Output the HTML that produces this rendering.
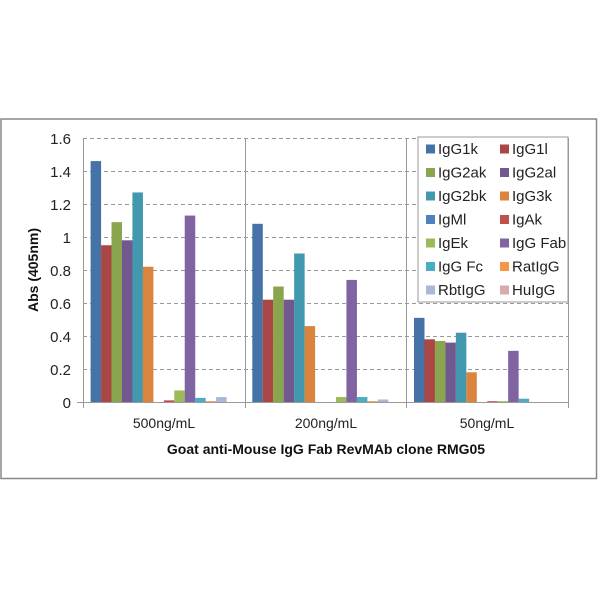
<!DOCTYPE html>
<html><head><meta charset="utf-8"><style>body{margin:0;background:#fff}</style></head><body>
<svg width="600" height="600" xmlns="http://www.w3.org/2000/svg" font-family="Liberation Sans, sans-serif">
<rect x="0" y="0" width="600" height="600" fill="#fff"/>
<rect x="1" y="119" width="595.5" height="359.5" fill="none" stroke="#888" stroke-width="1.5"/>
<g stroke="#999" stroke-dasharray="4,3" stroke-width="1">
<line x1="83" x2="568" y1="138.5" y2="138.5"/><line x1="83" x2="568" y1="171.5" y2="171.5"/>
<line x1="83" x2="568" y1="204.5" y2="204.5"/><line x1="83" x2="568" y1="237.5" y2="237.5"/>
<line x1="83" x2="568" y1="270.5" y2="270.5"/><line x1="83" x2="568" y1="303.5" y2="303.5"/>
<line x1="83" x2="568" y1="336.5" y2="336.5"/><line x1="83" x2="568" y1="369.5" y2="369.5"/>
</g>
<g stroke="#999" stroke-width="1">
<line x1="83.5" x2="83.5" y1="138" y2="408"/>
<line x1="245.5" x2="245.5" y1="138" y2="408"/>
<line x1="406.5" x2="406.5" y1="138" y2="408"/>
<line x1="568.5" x2="568.5" y1="138" y2="408"/>
<line x1="77" x2="568" y1="402.5" y2="402.5"/>
</g>
<g font-size="15" fill="#222" text-anchor="end">
<text x="71" y="144">1.6</text><text x="71" y="177">1.4</text><text x="71" y="210">1.2</text>
<text x="71" y="243">1</text><text x="71" y="276">0.8</text><text x="71" y="309">0.6</text>
<text x="71" y="342">0.4</text><text x="71" y="375">0.2</text><text x="71" y="408">0</text>
</g>
<text transform="translate(38,270) rotate(-90)" text-anchor="middle" font-size="14" font-weight="bold" fill="#111">Abs (405nm)</text>
<g font-size="14" fill="#222" text-anchor="middle">
<text x="164" y="428">500ng/mL</text><text x="326" y="428">200ng/mL</text><text x="487" y="428">50ng/mL</text>
</g>
<text x="326" y="454" text-anchor="middle" font-size="14" font-weight="bold" fill="#111">Goat anti-Mouse IgG Fab RevMAb clone RMG05</text>
<g>
<rect x="90.6" y="161.1" width="10.5" height="240.9" fill="#4572A7"/>
<rect x="101.06" y="245.25" width="10.5" height="156.75" fill="#AA4643"/>
<rect x="111.52" y="222.15" width="10.5" height="179.85" fill="#89A54E"/>
<rect x="121.98" y="240.3" width="10.5" height="161.7" fill="#71588F"/>
<rect x="132.44" y="192.45" width="10.5" height="209.55" fill="#4198AF"/>
<rect x="142.9" y="266.7" width="10.5" height="135.3" fill="#DB843D"/>
<rect x="163.82" y="400.35" width="10.5" height="1.65" fill="#C0504D"/>
<rect x="174.28" y="390.45" width="10.5" height="11.55" fill="#9BBB59"/>
<rect x="184.74" y="215.55" width="10.5" height="186.45" fill="#8064A2"/>
<rect x="195.2" y="397.9" width="10.5" height="4.1" fill="#4BACC6"/>
<rect x="205.66" y="401.2" width="10.5" height="0.8" fill="#F79646"/>
<rect x="216.12" y="397.05" width="10.5" height="4.95" fill="#A9B8D6"/>

<rect x="252.3" y="223.8" width="10.5" height="178.2" fill="#4572A7"/>
<rect x="262.76" y="299.7" width="10.5" height="102.3" fill="#AA4643"/>
<rect x="273.22" y="286.5" width="10.5" height="115.5" fill="#89A54E"/>
<rect x="283.68" y="299.7" width="10.5" height="102.3" fill="#71588F"/>
<rect x="294.14" y="253.5" width="10.5" height="148.5" fill="#4198AF"/>
<rect x="304.6" y="326.1" width="10.5" height="75.9" fill="#DB843D"/>
<rect x="335.98" y="397.05" width="10.5" height="4.95" fill="#9BBB59"/>
<rect x="346.44" y="279.9" width="10.5" height="122.1" fill="#8064A2"/>
<rect x="356.9" y="397.05" width="10.5" height="4.95" fill="#4BACC6"/>
<rect x="367.36" y="401.2" width="10.5" height="0.8" fill="#F79646"/>
<rect x="377.82" y="399.5" width="10.5" height="2.5" fill="#A9B8D6"/>

<rect x="414" y="317.85" width="10.5" height="84.15" fill="#4572A7"/>
<rect x="424.46" y="339.3" width="10.5" height="62.7" fill="#AA4643"/>
<rect x="434.92" y="340.95" width="10.5" height="61.05" fill="#89A54E"/>
<rect x="445.38" y="342.6" width="10.5" height="59.4" fill="#71588F"/>
<rect x="455.84" y="332.7" width="10.5" height="69.3" fill="#4198AF"/>
<rect x="466.3" y="372.3" width="10.5" height="29.7" fill="#DB843D"/>
<rect x="487.22" y="401.2" width="10.5" height="0.8" fill="#C0504D"/>
<rect x="497.68" y="401.2" width="10.5" height="0.8" fill="#9BBB59"/>
<rect x="508.14" y="350.85" width="10.5" height="51.15" fill="#8064A2"/>
<rect x="518.6" y="398.7" width="10.5" height="3.3" fill="#4BACC6"/>
</g>
<rect x="418" y="137" width="150" height="165" fill="#fff" stroke="#999"/>
<g font-size="15" fill="#222">
<rect x="426" y="144.5" width="9" height="9" fill="#4572A7"/><text x="438" y="154">IgG1k</text>
<rect x="500" y="144.5" width="9" height="9" fill="#AA4643"/><text x="512" y="154">IgG1l</text>
<rect x="426" y="168" width="9" height="9" fill="#89A54E"/><text x="438" y="177.5">IgG2ak</text>
<rect x="500" y="168" width="9" height="9" fill="#71588F"/><text x="512" y="177.5">IgG2al</text>
<rect x="426" y="191.5" width="9" height="9" fill="#4198AF"/><text x="438" y="201">IgG2bk</text>
<rect x="500" y="191.5" width="9" height="9" fill="#DB843D"/><text x="512" y="201">IgG3k</text>
<rect x="426" y="215" width="9" height="9" fill="#4F81BD"/><text x="438" y="224.5">IgMl</text>
<rect x="500" y="215" width="9" height="9" fill="#C0504D"/><text x="512" y="224.5">IgAk</text>
<rect x="426" y="238.5" width="9" height="9" fill="#9BBB59"/><text x="438" y="248">IgEk</text>
<rect x="500" y="238.5" width="9" height="9" fill="#8064A2"/><text x="512" y="248">IgG Fab</text>
<rect x="426" y="262" width="9" height="9" fill="#4BACC6"/><text x="438" y="271.5">IgG Fc</text>
<rect x="500" y="262" width="9" height="9" fill="#F79646"/><text x="512" y="271.5">RatIgG</text>
<rect x="426" y="285.5" width="9" height="9" fill="#A9B8D6"/><text x="438" y="295">RbtIgG</text>
<rect x="500" y="285.5" width="9" height="9" fill="#D9A9AB"/><text x="512" y="295">HuIgG</text>
</g>
</svg>
</body></html>
